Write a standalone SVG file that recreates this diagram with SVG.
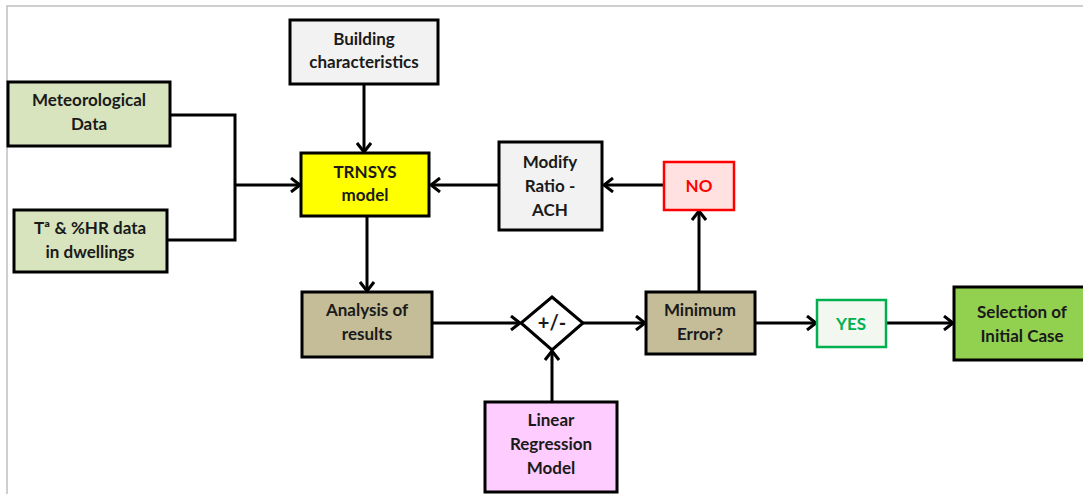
<svg xmlns="http://www.w3.org/2000/svg" width="1083" height="494" viewBox="0 0 1083 494">
<defs>
<marker id="arr" markerWidth="16" markerHeight="16" refX="12" refY="8" orient="auto" markerUnits="userSpaceOnUse">
<polyline points="3,1 12,8 3,15" fill="none" stroke="#000" stroke-width="3" stroke-linejoin="miter"/>
</marker>
</defs>
<style>
.box{stroke:#000;stroke-width:3}
.t{font-family:Lato,"Open Sans","Liberation Sans",sans-serif;font-weight:bold;font-size:17px;fill:#1a1a1a;text-anchor:middle}
.c{fill:none;stroke:#000;stroke-width:3}
</style>
<rect width="1083" height="494" fill="#fff"/>
<polyline points="7,494 7,6 1083,6" fill="none" stroke="#c0c0c0" stroke-width="1.5"/>

<g id="connectors">
<polyline class="c" points="170,115 235,115 235,240 167,240"/>
<line class="c" x1="235" y1="185" x2="300" y2="185" marker-end="url(#arr)"/>
<line class="c" x1="364" y1="84" x2="364" y2="152" marker-end="url(#arr)"/>
<line class="c" x1="367" y1="217" x2="367" y2="291" marker-end="url(#arr)"/>
<line class="c" x1="499" y1="185" x2="431" y2="185" marker-end="url(#arr)"/>
<line class="c" x1="664" y1="185" x2="604" y2="185" marker-end="url(#arr)"/>
<line class="c" x1="432" y1="323" x2="520" y2="323" marker-end="url(#arr)"/>
<line class="c" x1="583" y1="323" x2="645" y2="323" marker-end="url(#arr)"/>
<line class="c" x1="552" y1="402" x2="552" y2="351" marker-end="url(#arr)"/>
<line class="c" x1="699" y1="292" x2="699" y2="211" marker-end="url(#arr)"/>
<line class="c" x1="755" y1="323" x2="816" y2="323" marker-end="url(#arr)"/>
<line class="c" x1="886" y1="323" x2="953" y2="323" marker-end="url(#arr)"/>
</g>

<g id="building">
<rect class="box" x="290" y="20" width="148" height="64" fill="#f2f2f2"/>
<text class="t" x="364" y="45">Building</text>
<text class="t" x="364" y="68">characteristics</text>
</g>
<g id="meteo">
<rect class="box" x="8" y="82" width="162" height="64" fill="#d7e4bd"/>
<text class="t" x="89" y="106">Meteorological</text>
<text class="t" x="89" y="130">Data</text>
</g>
<g id="dwellings">
<rect class="box" x="14" y="210" width="153" height="62" fill="#d7e4bd"/>
<text class="t" x="90" y="234">Tª &amp; %HR data</text>
<text class="t" x="90" y="258">in dwellings</text>
</g>
<g id="trnsys">
<rect class="box" x="301" y="153" width="128" height="63" fill="#ffff00"/>
<text class="t" x="365" y="178">TRNSYS</text>
<text class="t" x="365" y="201">model</text>
</g>
<g id="modify">
<rect class="box" x="499" y="142" width="103" height="88" fill="#f2f2f2"/>
<text class="t" x="550" y="168">Modify</text>
<text class="t" x="550" y="192">Ratio -</text>
<text class="t" x="550" y="216">ACH</text>
</g>
<g id="no">
<rect x="664" y="162" width="70" height="48" fill="#ffe1e1" stroke="#ff0000" stroke-width="2.5"/>
<text class="t" x="699" y="192" style="fill:#ff0000">NO</text>
</g>
<g id="analysis">
<rect class="box" x="302" y="292" width="130" height="65" fill="#c4bd97"/>
<text class="t" x="367" y="316">Analysis of</text>
<text class="t" x="367" y="340">results</text>
</g>
<g id="diamond">
<polygon class="box" points="552,297 583,323 552,350 521,323" fill="#fff" stroke-width="2.5"/>
<text class="t" x="552" y="330" style="font-size:20px">+/-</text>
</g>
<g id="linear">
<rect class="box" x="485" y="402" width="132" height="90" fill="#ffccff"/>
<text class="t" x="551" y="426">Linear</text>
<text class="t" x="551" y="450">Regression</text>
<text class="t" x="551" y="474">Model</text>
</g>
<g id="minimum">
<rect class="box" x="646" y="292" width="109" height="62" fill="#c4bd97"/>
<text class="t" x="700" y="316">Minimum</text>
<text class="t" x="700" y="340">Error?</text>
</g>
<g id="yes">
<rect x="817" y="300" width="69" height="47" fill="#f2f8f0" stroke="#00b050" stroke-width="2.5"/>
<text class="t" x="851" y="330" style="fill:#00b050">YES</text>
</g>
<g id="selection">
<rect class="box" x="954" y="287" width="132" height="73" fill="#92d050"/>
<text class="t" x="1022" y="318">Selection of</text>
<text class="t" x="1022" y="342">Initial Case</text>
</g>
</svg>
